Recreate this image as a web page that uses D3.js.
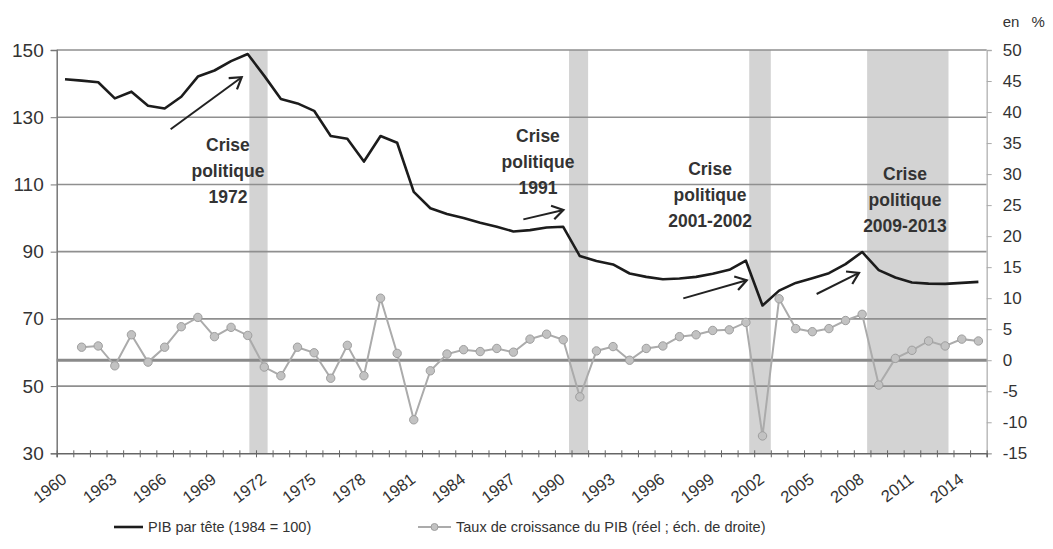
<!DOCTYPE html>
<html><head><meta charset="utf-8">
<script src="https://cdn.jsdelivr.net/npm/d3@7/dist/d3.min.js"></script>
<style>
body{margin:0;background:#fff}
svg{display:block;font-family:"Liberation Sans",Arial,sans-serif}
</style>
</head><body>
<svg id="chart" width="1053" height="549"></svg>
<script>
// ---------- DATA ----------
const years = [1960,1961,1962,1963,1964,1965,1966,1967,1968,1969,1970,1971,1972,1973,1974,1975,1976,1977,1978,1979,
  1980,1981,1982,1983,1984,1985,1986,1987,1988,1989,1990,1991,1992,1993,1994,1995,1996,1997,1998,1999,
  2000,2001,2002,2003,2004,2005,2006,2007,2008,2009,2010,2011,2012,2013,2014,2015];
const pibParTete = [141.3,140.9,140.4,135.6,137.6,133.4,132.6,136.1,142.1,143.9,146.7,148.8,142.3,135.4,134.1,131.9,124.4,123.6,116.8,124.4,
  122.4,107.8,102.9,101.2,100.0,98.6,97.4,96.0,96.4,97.2,97.4,88.7,87.2,86.2,83.5,82.5,81.8,82.0,82.5,83.4,
  84.6,87.3,74.0,78.4,80.7,82.1,83.6,86.3,89.9,84.5,82.3,80.8,80.5,80.4,80.7,81.0];
const tauxCroissance = [null,2.1,2.3,-0.9,4.1,-0.3,2.1,5.4,6.9,3.8,5.3,4.0,-1.1,-2.5,2.1,1.2,-2.9,2.4,-2.5,10.0,
  1.1,-9.6,-1.7,1.0,1.7,1.4,1.9,1.3,3.4,4.2,3.3,-5.9,1.5,2.2,0.0,1.9,2.3,3.8,4.1,4.8,
  4.9,6.1,-12.2,9.9,5.1,4.6,5.1,6.4,7.4,-4.0,0.3,1.6,3.1,2.3,3.4,3.1];
const leftTicks = [30,50,70,90,110,130,150];
const rightTicks = [-15,-10,-5,0,5,10,15,20,25,30,35,40,45,50];
const xTickLabels = [1960,1963,1966,1969,1972,1975,1978,1981,1984,1987,1990,1993,1996,1999,2002,2005,2008,2011,2014];
// crisis bands (in year units, category Y spans [Y, Y+1])
const bandStarts = [1971.6,1990.85,2001.7,2008.8];
const bandEnds   = [1972.7,1992.0,2003.0,2013.7];
// annotation labels: centre (year units), first baseline (left-axis units)
const crisisLabels = [["Crise","politique","1972"],["Crise","politique","1991"],["Crise","politique","2001-2002"],["Crise","politique","2009-2013"]];
const labelX = [1970.31,1988.98,1999.34,2011.08];
const labelY = [119.9,122.6,112.8,111.3];
// arrows: tail / head in (year units, left-axis units)
const arrowFromX = [1966.86,1988.10,1997.73,2005.76];
const arrowFromY = [126.4,99.6,76.1,77.4];
const arrowToX = [1971.14,1990.51,2001.55,2008.31];
const arrowToY = [141.9,102.4,81.5,83.7];
const legendLabels = ["PIB par tête (1984 = 100)","Taux de croissance du PIB (réel ; éch. de droite)"];

// ---------- LAYOUT ----------
const svg = d3.select("#chart");
const L = 56.7, R = 986.7, T = 50, B = 453.3;
const x = d3.scaleLinear().domain([1960, 2016]).range([L, R]);
const xc = y => x(y + 0.5);
const yL = d3.scaleLinear().domain([30, 150]).range([B, T]);
const yR = d3.scaleLinear().domain([-15, 50]).range([B, T]);

// bands
svg.append("g").selectAll("rect").data(bandStarts).join("rect")
  .attr("x", (d,i) => x(d)).attr("width", (d,i) => x(bandEnds[i]) - x(d))
  .attr("y", T).attr("height", B - T).attr("fill", "#d3d3d3");

// gridlines
svg.append("g").selectAll("line").data(leftTicks.filter(d => d > 30)).join("line")
  .attr("x1", L).attr("x2", R).attr("y1", d => yL(d)).attr("y2", d => yL(d))
  .attr("stroke", "#8f8f8f").attr("stroke-width", 1.6);

// left axis
const gL = svg.append("g").attr("transform", `translate(${L},0)`)
  .call(d3.axisLeft(yL).tickValues(leftTicks).tickSize(6).tickPadding(7));
gL.select(".domain").attr("stroke", "#777").attr("stroke-width", 1.5);
gL.selectAll(".tick line").attr("stroke", "#777");
gL.selectAll("text").attr("font-size", 19).attr("fill", "#333");

// right axis
const gR = svg.append("g").attr("transform", `translate(${R},0)`)
  .call(d3.axisRight(yR).tickValues(rightTicks).tickSize(5).tickPadding(11)
    .tickFormat(d => d < 0 ? "-" + Math.abs(d) : d));
gR.select(".domain").attr("stroke", "#bbb").attr("stroke-width", 1.5);
gR.selectAll(".tick line").attr("stroke", "#aaa");
gR.selectAll("text").attr("font-size", 17).attr("fill", "#333");
svg.append("text").attr("x", R + 16).attr("y", 27).attr("font-size", 15).attr("fill", "#333")
  .attr("word-spacing", 8).text("en %");

// bottom axis
const gB = svg.append("g").attr("transform", `translate(0,${B})`)
  .call(d3.axisBottom(x).tickValues(years.concat([2016])).tickSize(4).tickFormat(""));
gB.select(".domain").attr("stroke", "#666").attr("stroke-width", 1.5);
gB.selectAll(".tick line").attr("stroke", "#666").attr("y1", -3);
svg.append("g").selectAll("text").data(xTickLabels).join("text")
  .attr("transform", d => `translate(${xc(d) - 4},${B + 19}) rotate(-37)`)
  .attr("text-anchor", "end").attr("dy", "0.7em").attr("font-size", 16.5).attr("fill", "#333")
  .text(d => d);

// zero line (right axis)
svg.append("line").attr("x1", L).attr("x2", R).attr("y1", yR(0)).attr("y2", yR(0))
  .attr("stroke", "#8a8a8a").attr("stroke-width", 3.2);

// growth series
const gr = years.map((yr,i) => ({yr, v: tauxCroissance[i]})).filter(d => d.v !== null);
svg.append("path").datum(gr)
  .attr("d", d3.line().x(d => xc(d.yr)).y(d => yR(d.v)))
  .attr("fill", "none").attr("stroke", "#ababab").attr("stroke-width", 2);
svg.append("g").selectAll("circle").data(gr).join("circle")
  .attr("cx", d => xc(d.yr)).attr("cy", d => yR(d.v)).attr("r", 4.2)
  .attr("fill", "#c2c2c2").attr("stroke", "#9e9e9e").attr("stroke-width", 1);

// PIB series
svg.append("path").datum(years.map((yr,i) => ({yr, v: pibParTete[i]})))
  .attr("d", d3.line().x(d => xc(d.yr)).y(d => yL(d.v)))
  .attr("fill", "none").attr("stroke", "#1c1c1c").attr("stroke-width", 2.6).attr("stroke-linejoin", "round");

// arrows
svg.append("defs").append("marker").attr("id", "ah")
  .attr("markerUnits", "userSpaceOnUse").attr("markerWidth", 20).attr("markerHeight", 20)
  .attr("viewBox", "-14 -10 20 20").attr("refX", 0).attr("refY", 0).attr("orient", "auto")
  .append("path").attr("d", "M-11,-7 L0,0 L-11,7").attr("fill", "none")
  .attr("stroke", "#222").attr("stroke-width", 2.2);
svg.append("g").selectAll("line").data(arrowFromX).join("line")
  .attr("x1", d => x(d)).attr("y1", (d,i) => yL(arrowFromY[i]))
  .attr("x2", (d,i) => x(arrowToX[i])).attr("y2", (d,i) => yL(arrowToY[i]))
  .attr("stroke", "#222").attr("stroke-width", 2).attr("marker-end", "url(#ah)");

// crisis labels
crisisLabels.forEach((lines, i) => {
  const t = svg.append("text").attr("text-anchor", "middle").attr("font-size", 17.5)
    .attr("font-weight", "bold").attr("fill", "#333");
  lines.forEach((s, j) => t.append("tspan").attr("x", x(labelX[i]))
    .attr("y", yL(labelY[i]) + j * 26).text(s));
});

// legend
const lg = svg.append("g").attr("transform", "translate(0,527)");
lg.append("line").attr("x1", 114).attr("x2", 143).attr("stroke", "#1c1c1c").attr("stroke-width", 2.6);
lg.append("text").attr("x", 148).attr("dy", "0.35em").attr("font-size", 14.5).attr("fill", "#333").text(legendLabels[0]);
lg.append("line").attr("x1", 418).attr("x2", 451).attr("stroke", "#ababab").attr("stroke-width", 2);
lg.append("circle").attr("cx", 434.5).attr("r", 3.5).attr("fill", "#c2c2c2").attr("stroke", "#9e9e9e");
lg.append("text").attr("x", 456).attr("dy", "0.35em").attr("font-size", 14.5).attr("fill", "#333").text(legendLabels[1]);
</script>
</body></html>
